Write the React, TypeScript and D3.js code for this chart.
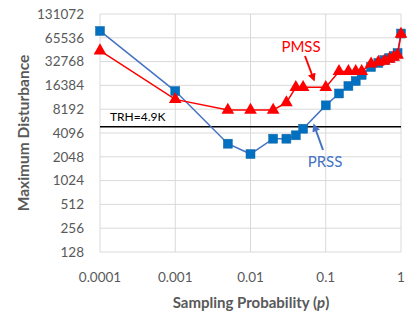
import React from "react";
import * as d3 from "d3";

// sampling probabilities (x) and maximum disturbance per scheme
const probs = [0.0001, 0.001, 0.005, 0.01, 0.02, 0.03, 0.04, 0.05, 0.1, 0.15, 0.2, 0.25, 0.3, 0.4, 0.5, 0.6, 0.7, 0.8, 0.9, 1];
const prss = [80000, 13900, 3000, 2220, 3470, 3470, 3830, 4640, 9160, 12950, 16100, 18600, 22200, 28000, 31500, 34300, 36400, 38600, 42100, 74200];
const pmss = [45000, 10900, 8000, 8000, 8000, 9900, 15500, 15500, 15500, 24600, 24600, 24600, 24600, 30600, 32400, 33300, 35300, 37400, 39700, 73200];

const xTicks = [0.0001, 0.001, 0.01, 0.1, 1];
const xTickLabels = ["0.0001", "0.001", "0.01", "0.1", "1"];
const yTicks = [128, 256, 512, 1024, 2048, 4096, 8192, 16384, 32768, 65536, 131072];
const trh = 4900;

const W = 415, H = 324;
const font = "Lato, 'Open Sans', sans-serif";
const grey = "#595959";

export default function App() {
  const x = d3.scaleLog().domain([0.0001, 1]).range([100, 401]);
  const y = d3.scaleLog().base(2).domain([128, 131072]).range([252, 14]);

  const line = d3.line<number>()
    .x((d, i) => x(probs[i]))
    .y(d => y(d));

  const tri = d3.symbol().type(d3.symbolTriangle).size(70)();

  return (
    <svg width={W} height={H} style={{ position: "absolute", left: 0, top: 0 }} fontFamily={font}>
      <rect width={W} height={H} fill="#fff" />
      {/* grid */}
      {yTicks.map(t => (
        <line key={"gy" + t} x1={100} x2={401} y1={y(t)} y2={y(t)} stroke="#D9D9D9" strokeWidth={1} />
      ))}
      {xTicks.map(t => (
        <line key={"gx" + t} x1={x(t)} x2={x(t)} y1={14} y2={252} stroke="#D9D9D9" strokeWidth={1} />
      ))}

      {/* y tick labels */}
      {yTicks.map(t => (
        <text key={"ty" + t} x={84} y={y(t)} dy="0.35em" textAnchor="end" fontSize={13.5} fill={grey}>{t}</text>
      ))}
      {/* x tick labels */}
      {xTicks.map((t, i) => (
        <text key={"tx" + t} x={x(t)} y={282} textAnchor="middle" fontSize={13.5} fill={grey}>{xTickLabels[i]}</text>
      ))}

      {/* threshold */}
      <line x1={100} x2={401} y1={y(trh)} y2={y(trh)} stroke="#000" strokeWidth={1.5} />
      <text x={110} y={y(trh) - 6} fontSize={12} fill="#000">TRH=4.9K</text>

      {/* PRSS */}
      <path d={line(prss) || ""} fill="none" stroke="#4472C4" strokeWidth={1.5} />
      {prss.map((v, i) => (
        <rect key={"s" + i} x={x(probs[i]) - 4.5} y={y(v) - 4.5} width={9} height={9} fill="#0070C0" stroke="#1a6aa8" strokeWidth={0.5} />
      ))}

      {/* PMSS */}
      <path d={line(pmss) || ""} fill="none" stroke="#FF0000" strokeWidth={1.5} />
      {pmss.map((v, i) => (
        <path key={"t" + i} d={tri || ""} transform={`translate(${x(probs[i])},${y(v)})`} fill="#FF0000" />
      ))}

      {/* annotations */}
      <defs>
        <marker id="arrRed" viewBox="0 0 10 10" refX={8} refY={5} markerWidth={4} markerHeight={4} orient="auto">
          <path d="M0,0 L10,5 L0,10 z" fill="#FF0000" />
        </marker>
        <marker id="arrBlue" viewBox="0 0 10 10" refX={8} refY={5} markerWidth={4} markerHeight={4} orient="auto">
          <path d="M0,0 L10,5 L0,10 z" fill="#4472C4" />
        </marker>
      </defs>
      <text x={301} y={52} textAnchor="middle" fontSize={15} fill="#FF0000">PMSS</text>
      <line x1={305} y1={56} x2={314} y2={80} stroke="#FF0000" strokeWidth={2} markerEnd="url(#arrRed)" />
      <text x={325} y={167} textAnchor="middle" fontSize={15} fill="#4472C4">PRSS</text>
      <line x1={323} y1={150} x2={314} y2={125} stroke="#4472C4" strokeWidth={2} markerEnd="url(#arrBlue)" />

      {/* axis titles */}
      <text x={251} y={308} textAnchor="middle" fontSize={15} fontWeight="bold" fill={grey}>
        Sampling Probability (<tspan fontStyle="italic">p</tspan>)
      </text>
      <text transform="translate(29,133) rotate(-90)" textAnchor="middle" fontSize={15.5} fontWeight="bold" fill={grey}>Maximum Disturbance</text>
    </svg>
  );
}
